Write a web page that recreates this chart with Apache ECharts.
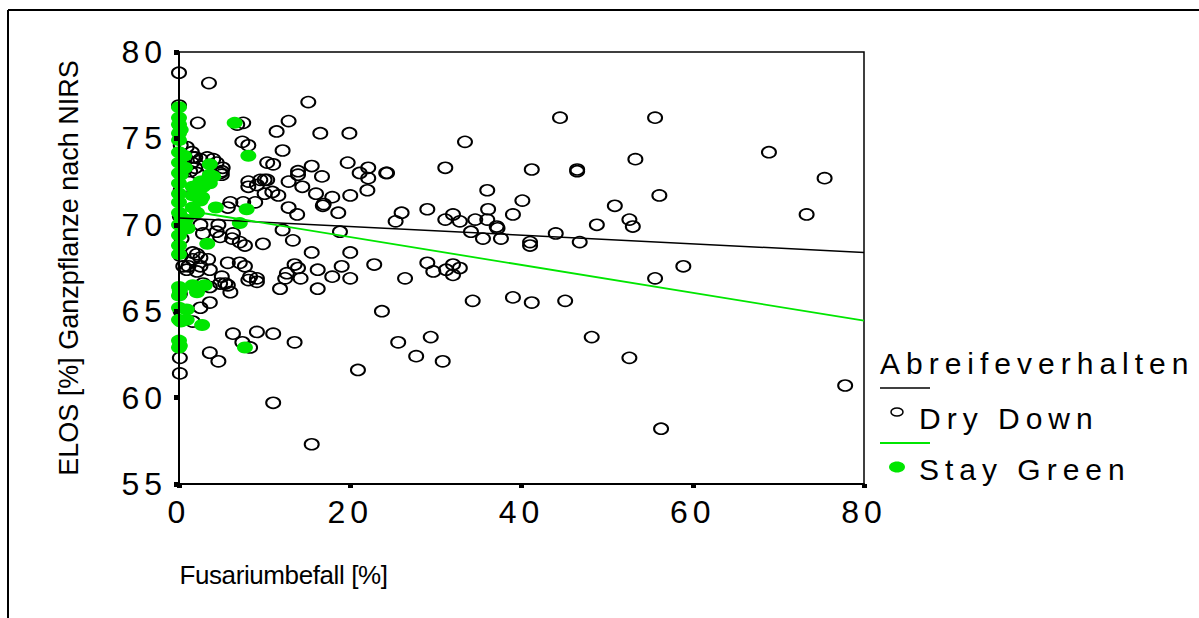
<!DOCTYPE html>
<html><head><meta charset="utf-8">
<script src="https://cdn.jsdelivr.net/npm/echarts@6/dist/echarts.min.js"></script>
<style>
html,body{margin:0;padding:0;background:#fff;}
#c{width:1199px;height:618px;}
#c text[style*="30px"]{letter-spacing:6px;}
#c text[style*="32px"]{letter-spacing:5px;}
#c text[style*="26px"]{letter-spacing:-0.4px;}
</style></head>
<body><div id="c"></div>
<script>
// ---- data ----
const xTicks = [0, 20, 40, 60, 80];
const yTicks = [55, 60, 65, 70, 75, 80];
const legendTitle = 'Abreifeverhalten';
const groupNames = ['Dry Down', 'Stay Green'];
const xTitle = 'Fusariumbefall [%]';
const yTitle = 'ELOS [%] Ganzpflanze nach NIRS';

const dryDown = [
 [15.1,77.1],[12.8,76.0],[16.5,75.3],[19.9,75.3],[12.1,74.3],[44.5,76.2],[33.4,74.8],[15.5,73.4],[13.9,73.1],[13.9,72.9],
 [12.8,72.5],[16.7,72.8],[19.7,73.6],[21.1,73.0],[22.1,73.3],[22.1,72.7],[24.2,73.0],[24.3,73.0],[31.1,73.3],[41.2,73.2],
 [46.5,73.2],[46.5,73.1],[14.4,72.2],[16.0,71.8],[17.9,71.6],[16.8,71.1],[16.9,71.2],[20.0,71.7],[22.0,72.0],[36.0,72.0],
 [40.1,71.4],[12.8,71.0],[13.8,70.6],[18.6,70.7],[26.0,70.7],[29.0,70.9],[32.0,70.6],[31.1,70.3],[32.8,70.2],[34.6,70.3],
 [36.1,70.9],[36.0,70.3],[37.1,69.9],[37.2,69.8],[39.0,70.6],[25.3,70.2],[34.1,69.6],[35.5,69.2],[37.6,69.2],[44.0,69.5],
 [46.8,69.0],[41.0,69.0],[41.0,68.8],[18.8,69.6],[13.3,69.1],[12.1,69.7],[15.5,68.4],[20.0,68.4],[22.8,67.7],[29.0,67.8],
 [13.5,67.7],[13.9,67.5],[16.2,67.4],[19.0,67.6],[29.7,67.3],[31.2,67.4],[32.0,67.7],[32.8,67.5],[32.0,67.1],[26.4,66.9],
 [17.9,67.0],[20.0,66.9],[12.6,67.2],[12.4,66.9],[11.8,66.3],[14.2,66.9],[16.2,66.3],[34.3,65.6],[39.0,65.8],[41.2,65.5],
 [45.1,65.6],[23.7,65.0],[13.5,63.2],[25.6,63.2],[29.4,63.5],[27.7,62.4],[30.8,62.1],[20.9,61.6],[15.5,57.3],[55.6,76.2],
 [53.3,73.8],[68.9,74.2],[75.4,72.7],[56.1,71.7],[50.9,71.1],[48.8,70.0],[52.6,70.3],[53.0,69.9],[73.3,70.6],[58.9,67.6],
 [55.6,66.9],[48.2,63.5],[52.6,62.3],[56.3,58.2],[77.8,60.7],[11.0,59.7],
 [0,78.8],[3.5,78.2],[0,76.9],[2.2,75.9],[6.8,75.8],[7.5,75.9],[11.4,75.4],[7.4,74.8],[8.1,74.6],[10.3,73.6],
 [11.0,73.5],[0.9,74.5],[1.5,74.2],[1.9,73.9],[2.5,73.8],[3.3,73.9],[4.0,73.8],[4.4,73.6],[4.8,73.0],[0.7,73.9],
 [1.6,73.9],[5.1,73.3],[5.0,73.1],[1.5,73.6],[1.9,73.3],[2.1,73.0],[1.3,73.1],[8.1,72.5],[8.1,72.2],[9.1,72.3],
 [10.3,72.6],[10.9,71.9],[10.0,71.8],[6.0,71.3],[5.7,71.0],[7.5,71.3],[8.9,71.3],[11.6,71.7],[2.5,70.0],[2.8,69.5],
 [4.4,69.6],[4.8,69.3],[4.6,70.0],[6.3,69.5],[6.2,69.2],[7.1,69.0],[7.7,68.8],[9.8,68.9],[1.6,68.4],[1.6,68.0],
 [1.1,67.6],[2.5,67.6],[2.1,67.3],[2.1,68.3],[2.5,68.1],[5.7,67.8],[7.1,67.8],[7.7,67.6],[8.3,67.0],[9.1,66.9],
 [3.4,68.0],[3.6,67.4],[5.0,67.0],[5.4,66.6],[2.8,66.6],[3.6,66.4],[4.8,66.6],[5.7,66.5],[6.0,66.1],[9.1,66.7],
 [8.1,66.8],[2.5,65.2],[3.6,65.5],[1.6,64.4],[6.3,63.7],[9.1,63.8],[11.0,63.7],[7.4,63.2],[8.3,62.9],[3.6,62.6],
 [4.6,62.1],[0.1,62.3],[0.1,61.4],[0.5,67.6],[0.9,67.4],[0.2,74.6],[0.3,73.0],[0.2,72.0],[0.1,70.5],[0.3,69.2],
 [0.2,68.2],[0.1,66.0],[0.2,65.0],[10.0,72.6],[5.0,72.9],[9.5,72.6]
];

const stayGreen = [
 [0,76.8],[0,76.2],[0,75.8],[0,75.3],[0,74.9],[0,74.2],[0,73.6],[0,73.0],[0,72.4],[0,71.8],
 [0,71.3],[0,70.7],[0,70.0],[0,69.4],[0,68.8],[0,68.3],[0,66.4],[0,65.9],[0,65.2],[0,64.5],
 [0,63.3],[0,62.9],[0.2,75.5],[0.2,72.9],[0.3,70.4],[0.1,66.2],[0.2,64.4],[0.1,63.0],
 [6.5,75.9],[8.1,74.0],[3.6,73.5],[3.6,72.9],[4.0,72.8],[2.5,72.5],[1.6,72.2],[2.8,72.2],
 [3.6,72.4],[2.1,72.0],[1.6,71.7],[2.5,71.4],[2.7,71.6],[4.3,71.0],[1.6,71.0],[2.1,70.7],
 [7.9,70.9],[7.1,70.1],[3.3,68.9],[1.6,66.5],[3.0,66.5],[2.1,66.1],[0.9,65.1],[0.9,64.5],
 [2.7,64.2],[7.7,62.9],[0.8,70.3],[1.0,69.8],[0.7,73.3],[0.6,74.0]
];

// fitted lines (end points)
const fitDryDown = [[0,70.4],[80,68.4]];
const fitStayGreen = [[0,70.9],[80,64.45]];

// ---- chart ----
const GREEN = '#00e600';
const FONT = '"Liberation Sans", Arial, sans-serif';
const chart = echarts.init(document.getElementById('c'), null, {renderer:'svg'});
chart.setOption({
  animation:false,
  backgroundColor:'#fff',
  grid:{left:179, right:335, top:52, bottom:134, show:true, borderColor:'#000', borderWidth:1.5, backgroundColor:'transparent'},
  xAxis:{type:'value', min:xTicks[0], max:xTicks[xTicks.length-1], interval:20, z:5,
    axisLine:{show:true, onZero:false, lineStyle:{color:'#000', width:2}},
    axisTick:{show:true, length:4, lineStyle:{color:'#000', width:5}},
    splitLine:{show:false},
    axisLabel:{color:'#000', fontSize:32, fontFamily:FONT, margin:12},
    name:xTitle, nameLocation:'middle', nameGap:78,
    nameTextStyle:{color:'#000', fontSize:26, fontFamily:FONT, padding:[0,476,0,0]}
  },
  yAxis:{type:'value', min:yTicks[0], max:yTicks[yTicks.length-1], interval:5, z:5,
    axisLine:{show:true, onZero:false, lineStyle:{color:'#000', width:2}},
    axisTick:{show:true, length:5, lineStyle:{color:'#000', width:5}},
    splitLine:{show:false},
    axisLabel:{color:'#000', fontSize:32, fontFamily:FONT, margin:12},
    name:yTitle, nameLocation:'middle', nameGap:97, nameRotate:90,
    nameTextStyle:{color:'#000', fontSize:27, fontFamily:FONT}
  },
  series:[
    {name:groupNames[0], type:'scatter', data:dryDown, clip:false, symbol:'circle', symbolSize:[14,11], z:2,
      itemStyle:{color:'rgba(255,255,255,0)', borderColor:'#000', borderWidth:1.8, opacity:1}},
    {name:groupNames[1], type:'scatter', data:stayGreen, clip:false, symbol:'circle', symbolSize:[16,12], z:3,
      itemStyle:{color:GREEN, opacity:1}},
    {name:groupNames[0]+' fit', type:'line', data:fitDryDown, showSymbol:false, symbol:'none', z:4,
      lineStyle:{color:'#000', width:1.5}},
    {name:groupNames[1]+' fit', type:'line', data:fitStayGreen, showSymbol:false, symbol:'none', z:4,
      lineStyle:{color:GREEN, width:1.8}}
  ],
  graphic:[
    {type:'line', shape:{x1:8,y1:10,x2:1199,y2:10}, style:{stroke:'#000', lineWidth:2}},
    {type:'line', shape:{x1:8,y1:10,x2:8,y2:618}, style:{stroke:'#000', lineWidth:2}},
    {type:'text', left:880, top:348, style:{text:legendTitle, fill:'#000', font:'30px '+FONT}},
    {type:'line', shape:{x1:880,y1:388,x2:930,y2:388}, style:{stroke:'#000', lineWidth:1.5}},
    {type:'ellipse', shape:{cx:897,cy:412,rx:6,ry:4}, style:{fill:'none', stroke:'#000', lineWidth:1.5}},
    {type:'text', left:919, top:403, style:{text:groupNames[0], fill:'#000', font:'30px '+FONT}},
    {type:'line', shape:{x1:880,y1:443,x2:930,y2:443}, style:{stroke:GREEN, lineWidth:1.8}},
    {type:'ellipse', shape:{cx:897,cy:467,rx:8,ry:5.5}, style:{fill:GREEN}},
    {type:'text', left:919, top:454, style:{text:groupNames[1], fill:'#000', font:'30px '+FONT}}
  ]
});
</script></body></html>
